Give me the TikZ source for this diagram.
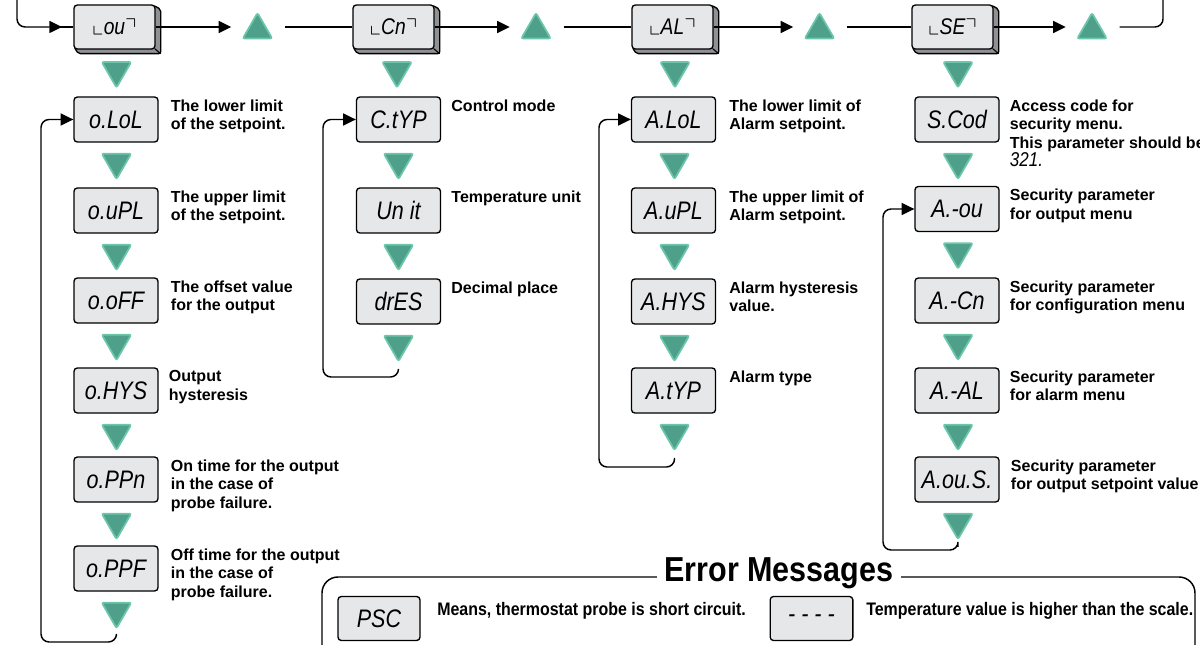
\documentclass[tikz,border=0pt]{standalone}
\usepackage{fontspec}
\usepackage{amssymb}
\setmainfont{Liberation Sans}
\newfontfamily\segfont{Liberation Sans}[FakeStretch=0.85]
\newfontfamily\narrowfont{Liberation Sans}[FakeStretch=0.88]
\usetikzlibrary{shapes.geometric,arrows.meta,calc,backgrounds}

\definecolor{boxgray}{HTML}{E6E7E8}
\definecolor{sidegray}{HTML}{8F9194}
\definecolor{tealfill}{HTML}{4FA08B}
\definecolor{tealedge}{HTML}{6CC6A9}

\tikzset{
  line/.style={draw=black, line width=1.1pt},
  arr/.style={line, -{Triangle[length=9.5pt,width=9pt]}},
  disp/.style={draw=black, line width=1pt, fill=boxgray, rounded corners=2.5pt,
    minimum width=63pt, minimum height=33.75pt, inner sep=0pt,
    font=\segfont\itshape\fontsize{19}{19}\selectfont},
  menubox/.style={disp, minimum width=60.75pt, minimum height=33pt,
    font=\segfont\itshape\fontsize{17}{17}\selectfont},
  tri/.style={regular polygon, regular polygon sides=3, minimum size=25.5pt,
    inner sep=0pt, fill=tealfill, draw=tealedge, line width=1.3pt, rounded corners=1.5pt},
  uptri/.style={tri},
  dntri/.style={tri, shape border rotate=180},
  lbl/.style={anchor=north west, align=left, inner sep=0pt,
    font=\bfseries\fontsize{12}{13.9}\selectfont},
  errtxt/.style={anchor=west, inner sep=0pt, font=\narrowfont\bfseries\fontsize{13.6}{15}\selectfont},
}

% extruded side faces of a menu key
\newcommand{\keyside}[1]{%
  \begin{scope}[on background layer]
    \draw[line width=1pt, fill=sidegray, rounded corners=1.5pt]
      ($(#1.north east)+(-2,1)$) -- ($(#1.north east)+(5,5)$) --
      ($(#1.south east)+(5,4)$) -- ($(#1.south west)+(5,4)$) --
      ($(#1.south west)+(1,-2)$) -- ($(#1.south east)+(-2,-2)$) -- cycle;
    \draw[line width=0.8pt] ($(#1.south east)+(-1,-1)$) -- ($(#1.south east)+(5,4)$);
  \end{scope}}

\begin{document}
\begin{tikzpicture}[x=0.75pt,y=-0.75pt]
\useasboundingbox (0,0) rectangle (1200,645);

% ---------- main menu row ----------
\node[menubox] (b1) at (114.5,27) {\(\llcorner\)ou\(\urcorner\)};
\node[menubox] (b2) at (393.5,27) {\(\llcorner\)Cn\(\urcorner\)};
\node[menubox] (b3) at (672.5,27) {\(\llcorner\)AL\(\urcorner\)};
\node[menubox] (b4) at (952.5,27) {\(\llcorner\)SE\(\urcorner\)};
\foreach \k in {b1,b2,b3,b4} {\keyside{\k}}

\node[uptri] (u1) at (257.5,30) {};
\node[uptri] (u2) at (536,30) {};
\node[uptri] (u3) at (819.5,30) {};
\node[uptri] (u4) at (1092,30) {};

\coordinate (topL) at (17,-5);
\coordinate (topR) at (1163,-5);
\draw[arr, rounded corners=6pt, shorten >=8.5pt] (topL) |- (b1.west);
\draw[line] ($(b1.west)+(-13,0)$) -- (b1.west);
\foreach \b/\u in {b1/u1,b2/u2,b3/u3,b4/u4}
  \draw[arr, shorten >=7.5pt] (\b.east) -- (\b.east -| \u.corner 2);
\foreach \u/\b in {u1/b2,u2/b3,u3/b4}
  \draw[line, shorten <=8.5pt] (\u.corner 3 |- \b.west) -- (\b.west);
\draw[line, rounded corners=6pt, shorten <=8.5pt] (u4.corner 3 |- b4.east) -| (topR);

\node[dntri] (tb1) at (116.5,70.5) {};
\node[dntri] (tb2) at (397,70.5) {};
\node[dntri] (tb3) at (675,70.5) {};
\node[dntri] (tb4) at (958,70.5) {};

% ---------- output menu ----------
\node[disp] (o1) at (116,119.5) {o.LoL};
\node[disp] (o2) at (116,210.5) {o.uPL};
\node[disp] (o3) at (116,300.5) {o.oFF};
\node[disp] (o4) at (116,390.5) {o.HYS};
\node[disp] (o5) at (116,479.5) {o.PPn};
\node[disp] (o6) at (116,568.5) {o.PPF};
\node[lbl] (lo1) at ($(o1.north east)+(12,3)$) {The lower limit\\of the setpoint.};
\node[lbl] (lo2) at ($(o2.north east)+(12,3)$) {The upper limit\\of the setpoint.};
\node[lbl] (lo3) at ($(o3.north east)+(12,3)$) {The offset value\\for the output};
\node[lbl] (lo4) at ($(o4.north east)+(10,3)$) {Output\\hysteresis};
\node[lbl] (lo5) at ($(o5.north east)+(12,3)$) {On time for the output\\in the case of\\probe failure.};
\node[lbl] (lo6) at ($(o6.north east)+(12,3)$) {Off time for the output\\in the case of\\probe failure.};
\foreach \i in {1,...,6} {\node[dntri] (to\i) at ($(o\i.south)+(0.5,19.5)$) {};}
\coordinate (lp1) at (41,642);
\draw[arr, rounded corners=6pt] ($(to6.south)+(0,6)$) |- (lp1) |- (o1.west);

% ---------- configuration menu ----------
\node[disp] (c1) at (398.5,119.5) {C.tYP};
\node[disp] (c2) at (398.5,210.5) {Un it};
\node[disp] (c3) at (398.5,301.5) {drES};
\node[lbl] (lc1) at ($(c1.north east)+(10,3)$) {Control mode};
\node[lbl] (lc2) at ($(c2.north east)+(10,3)$) {Temperature unit};
\node[lbl] (lc3) at ($(c3.north east)+(10,3)$) {Decimal place};
\foreach \i in {1,...,3} {\node[dntri] (tc\i) at ($(c\i.south)+(0,19.5)$) {};}
\coordinate (lp2) at (323,377);
\draw[arr, rounded corners=6pt] ($(tc3.south)+(0,6)$) |- (lp2) |- (c1.west);

% ---------- alarm menu ----------
\node[disp] (a1) at (673.5,119.5) {A.LoL};
\node[disp] (a2) at (673.5,210.5) {A.uPL};
\node[disp] (a3) at (673.5,301.5) {A.HYS};
\node[disp] (a4) at (673.5,390.5) {A.tYP};
\node[lbl] (la1) at ($(a1.north east)+(13,3)$) {The lower limit of\\Alarm setpoint.};
\node[lbl] (la2) at ($(a2.north east)+(13,3)$) {The upper limit of\\Alarm setpoint.};
\node[lbl] (la3) at ($(a3.north east)+(13,3)$) {Alarm hysteresis\\value.};
\node[lbl] (la4) at ($(a4.north east)+(13,3)$) {Alarm type};
\foreach \i in {1,...,4} {\node[dntri] (ta\i) at ($(a\i.south)+(1,19.5)$) {};}
\coordinate (lp3) at (599,467);
\draw[arr, rounded corners=6pt] ($(ta4.south)+(0,6)$) |- (lp3) |- (a1.west);

% ---------- security menu ----------
\node[disp] (s1) at (957,119.5) {S.Cod};
\node[disp] (s2) at (957,209) {A.-ou};
\node[disp] (s3) at (957,300.5) {A.-Cn};
\node[disp] (s4) at (957,390.5) {A.-AL};
\node[disp] (s5) at (957,479.5) {A.ou.S.};
\node[lbl] (ls1) at ($(s1.north east)+(10,3)$) {Access code for\\security menu.\\This parameter should be\\{\segfont\itshape\mdseries\fontsize{15}{13.9}\selectfont 321.}};
\node[lbl] (ls2) at ($(s2.north east)+(10,3)$) {Security parameter\\for output menu};
\node[lbl] (ls3) at ($(s3.north east)+(10,3)$) {Security parameter\\for configuration menu};
\node[lbl] (ls4) at ($(s4.north east)+(10,3)$) {Security parameter\\for alarm menu};
\node[lbl] (ls5) at ($(s5.north east)+(11,3)$) {Security parameter\\for output setpoint value};
\foreach \i in {1,...,5} {\node[dntri] (ts\i) at ($(s\i.south)+(1,19.5)$) {};}
\coordinate (lp4) at (883,550);
\draw[arr, rounded corners=6pt] ($(ts5.south)+(0,6)$) |- (lp4) |- (s2.west);

% ---------- error messages ----------
\coordinate (eBL) at (322,700);
\coordinate (eBR) at (1195,700);
\coordinate (eTL) at (322,577);
\coordinate (eTR) at (1195,577);
\draw[line, rounded corners=12pt] (eBL) -- (eTL) -- (eTR) -- (eBR);
\node[fill=white, inner xsep=6pt, inner ysep=1pt,
  font=\narrowfont\bfseries\fontsize{26}{26}\selectfont] (etitle) at (779,573) {Error Messages};
\node[disp, minimum width=61.5pt, minimum height=33pt] (e1) at (379,618.5) {PSC};
\node[errtxt] (et1) at (437,611) {Means, thermostat probe is short circuit.};
\node[disp, minimum width=62pt, minimum height=33pt] (e2) at (811.5,618.5) {- - - -};
\node[errtxt] (et2) at (866,611) {Temperature value is higher than the scale.};
\end{tikzpicture}
\end{document}
